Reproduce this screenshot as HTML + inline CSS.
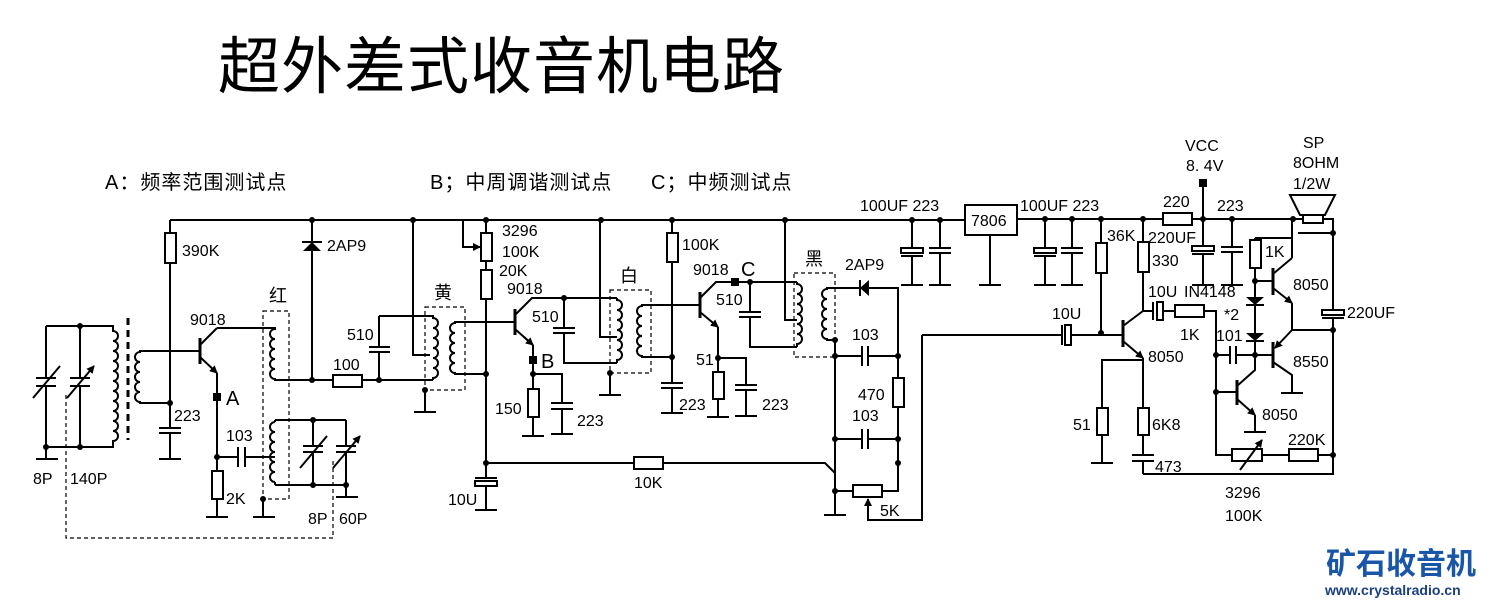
<!DOCTYPE html>
<html><head><meta charset="utf-8"><style>
html,body{margin:0;padding:0;background:#fff;}
svg{display:block}
text{font-family:"Liberation Sans","Noto Sans CJK SC",sans-serif;fill:#000;}
</style></head><body>
<svg width="1492" height="603" viewBox="0 0 1492 603" xmlns="http://www.w3.org/2000/svg">
<defs>
<marker id="ar" markerWidth="8" markerHeight="8" refX="7" refY="4" orient="auto" markerUnits="userSpaceOnUse"><path d="M0,0 L8,4 L0,8 z" fill="#000"/></marker>
</defs>
<text x="218" y="88" font-size="62" letter-spacing="1" font-family="Noto Sans CJK SC,sans-serif">超外差式收音机电路</text>
<text x="105" y="189" font-size="20" letter-spacing="1">A：频率范围测试点</text>
<text x="430" y="189" font-size="20" letter-spacing="1">B；中周调谐测试点</text>
<text x="651" y="189" font-size="20" letter-spacing="1">C；中频测试点</text>

<g stroke="#000" stroke-width="2" fill="none">
<path d="M170 220H965M1017 219H1333V310M1333 318V474H1143"/>
<path d="M46 326H113V331a5 5 0 0 1 0 10a5 5 0 0 1 0 10a5 5 0 0 1 0 10a5 5 0 0 1 0 10a5 5 0 0 1 0 10a5 5 0 0 1 0 10a5 5 0 0 1 0 10a5 5 0 0 1 0 10a5 5 0 0 1 0 10a5 5 0 0 1 0 10a5 5 0 0 1 0 10V447H46"/>
<path d="M46 326V378M46 386V459M36 378H56M36 386H56M36 459H58M80 326V378M80 386V447M70 378H90M70 386H90"/>
<path d="M33 398L60 366M67 398L94 366" marker-end="url(#ar)"/>
<path d="M128 318V440" stroke-width="3" stroke-dasharray="7,5"/>
<path d="M170 351H140V352a5 5 0 0 0 0 10a5 5 0 0 0 0 10a5 5 0 0 0 0 10a5 5 0 0 0 0 10a5 5 0 0 0 0 10V403H170"/>
<path d="M170 220V428M159 428H181M159 433H181M170 433V459M159 459H181"/>
<path d="M170 351H200M217 328H275V329a5 5 0 0 0 0 10a5 5 0 0 0 0 10a5 5 0 0 0 0 10a5 5 0 0 0 0 10a5 5 0 0 0 0 10V380H433"/>
<path d="M200 338V364" stroke-width="3"/>
<path d="M200 345L217 328"/>
<path d="M200 357L217 373" marker-end="url(#ar)"/>
<path d="M217 373V471M217 499V517M206 517H228M217 457H238M238 447V467M245 447V467M245 457H275"/>
<path d="M312 220V380M302 242H322"/>
<path d="M275 420H346M275 485H346V497M336 497H358M275 422a5 5 0 0 0 0 10a5 5 0 0 0 0 10a5 5 0 0 0 0 10a5 5 0 0 0 0 10a5 5 0 0 0 0 10a5 5 0 0 0 0 10M275 420V422M275 482V485"/>
<path d="M313 420V446M313 452V485M303 446H323M303 452H323M346 420V446M346 452V485M336 446H356M336 452H356"/>
<path d="M300 468L327 436M333 468L360 436" marker-end="url(#ar)"/>
<path d="M263 499V517M253 517H275"/>
<path d="M263 311H289V499H263Z" stroke-width="1.2" stroke-dasharray="4,3"/>
<path d="M66 395V538H333V460" stroke-width="1.2" stroke-dasharray="4,3"/>
<path d="M379 316V347M369 347H390M369 352H390M379 352V380M379 316H433V318a5 5 0 0 1 0 10a5 5 0 0 1 0 10a5 5 0 0 1 0 10a5 5 0 0 1 0 10a5 5 0 0 1 0 10a5 5 0 0 1 0 10V380M413 220V355H430"/>
<path d="M425 390V412M414 412H436"/>
<path d="M425 307H465V390H425Z" stroke-width="1.2" stroke-dasharray="4,3"/>
<path d="M486 322H455V323a5 5 0 0 0 0 10a5 5 0 0 0 0 10a5 5 0 0 0 0 10a5 5 0 0 0 0 10a5 5 0 0 0 0 10V374H486"/>
<path d="M486 220V478M475 478H497M486 486V510M475 510H497"/>
<rect x="475" y="481" width="22" height="5"/>
<path d="M463 220V247H480" marker-end="url(#ar)"/>
<path d="M486 463H825L835 473M835 340V515M824 515H846"/>
<path d="M486 322H515"/>
<path d="M515 309V335" stroke-width="3"/>
<path d="M515 315L532 298H617M515 329L533 345" />
<path d="M524 337L533 345" marker-end="url(#ar)"/>
<path d="M533 345V389M533 417V436M522 436H544M533 374H562V403M551 403H573M551 409H573M562 409V434M551 434H573"/>
<path d="M564 298V328M553 328H575M553 333H575M564 333V363H617"/>
<path d="M600 220V337H617M617 298V300a5 5 0 0 1 0 10a5 5 0 0 1 0 10a5 5 0 0 1 0 10a5 5 0 0 1 0 10a5 5 0 0 1 0 10a5 5 0 0 1 0 10V363"/>
<path d="M610 290H651V373H610Z" stroke-width="1.2" stroke-dasharray="4,3"/>
<path d="M610 373V395M599 395H621"/>
<path d="M672 305H642V306a5 5 0 0 0 0 10a5 5 0 0 0 0 10a5 5 0 0 0 0 10a5 5 0 0 0 0 10a5 5 0 0 0 0 10V357H672"/>
<path d="M672 220V383M661 383H683M661 388H683M672 388V413M661 413H683"/>
<path d="M672 305H700"/>
<path d="M700 292V318" stroke-width="3"/>
<path d="M700 298L716 282H797"/>
<path d="M700 312L718 327" marker-end="url(#ar)"/>
<path d="M718 327V372M718 399V417M707 417H729M718 358H746V385M735 385H757M735 390H757M746 390V416M735 416H757"/>
<path d="M750 282V312M739 312H761M739 317H761M750 317V347H797"/>
<path d="M785 220V320H797M797 282V284a5 5 0 0 1 0 10a5 5 0 0 1 0 10a5 5 0 0 1 0 10a5 5 0 0 1 0 10a5 5 0 0 1 0 10a5 5 0 0 1 0 10V347"/>
<path d="M794 273H835V357H794Z" stroke-width="1.2" stroke-dasharray="4,3"/>
<path d="M835 340H827V339a5 5 0 0 1 0 -10a5 5 0 0 1 0 -10a5 5 0 0 1 0 -10a5 5 0 0 1 0 -10a5 5 0 0 1 0 -10V288H898V491H882M860 280V296"/>
<path d="M835 356H862M862 346V366M868 346V366M868 356H898M835 439H862M862 429V449M868 429V449M868 439H898M835 491H853"/>
<path d="M922 335V520H868V500" />
<path d="M868 510V499" marker-end="url(#ar)"/>
<path d="M922 335H1062M1062 325V345M1071 335H1123"/>
<rect x="1065" y="325" width="6" height="20"/>
<path d="M912 220V248M901 256H923M912 256V285M901 285H923M940 220V248M929 248H951M929 253H951M940 253V285M929 285H951"/>
<rect x="901" y="248" width="22" height="5"/>
<path d="M990 235V285M979 285H1001"/>
<path d="M1045 219V248M1034 256H1056M1045 256V285M1034 285H1056M1072 219V248M1061 248H1083M1061 253H1083M1072 253V285M1061 285H1083"/>
<rect x="1034" y="248" width="22" height="5"/>
<path d="M1101 219V333M1143 219V311"/>
<path d="M1123 320V347" stroke-width="3"/>
<path d="M1123 326L1143 311"/>
<path d="M1123 341L1143 358" marker-end="url(#ar)"/>
<path d="M1143 358V455M1132 455H1154M1132 461H1154M1143 461V474M1143 360H1102V408M1102 435V463M1091 463H1113"/>
<path d="M1143 311H1153M1153 302V320M1163 311H1216V455H1333"/>
<rect x="1157" y="302" width="6" height="18"/>
<path d="M1203 183V246M1192 254H1214M1203 254V285M1192 285H1214M1232 219V247M1221 247H1243M1221 252H1243M1232 252V285M1221 285H1243"/>
<rect x="1192" y="246" width="22" height="5"/>
<path d="M1292 219V258M1298 233H1333M1255 238H1292M1255 238V355"/>
<path d="M1255 281H1273M1255 355H1273"/>
<path d="M1273 268V295M1273 342V368M1237 380V405" stroke-width="3"/>
<path d="M1273 274L1292 258"/>
<path d="M1273 288L1292 303" marker-end="url(#ar)"/>
<path d="M1292 303V330H1333"/>
<path d="M1292 330L1275 348" marker-end="url(#ar)"/>
<path d="M1273 362L1292 375V393M1281 393H1303"/>
<path d="M1246 305H1264M1246 341H1264"/>
<path d="M1216 355H1230M1230 346V364M1236 346V364M1236 355H1255M1216 392H1237"/>
<path d="M1237 386L1255 370V355"/>
<path d="M1237 399L1255 415" marker-end="url(#ar)"/>
<path d="M1255 415V432M1244 432H1266"/>
<path d="M1322 318H1344"/>
<rect x="1322" y="310" width="22" height="5"/>
<path d="M1290 195H1335L1325 215H1300Z"/>
</g>
<g stroke="#000" stroke-width="2" fill="#fff">
<rect x="165" y="233" width="11" height="30"/>
<rect x="212" y="471" width="11" height="28"/>
<rect x="333" y="375" width="29" height="12"/>
<rect x="481" y="233" width="11" height="28"/>
<rect x="481" y="270" width="11" height="29"/>
<rect x="634" y="457" width="29" height="12"/>
<rect x="528" y="389" width="11" height="28"/>
<rect x="667" y="233" width="11" height="29"/>
<rect x="713" y="372" width="11" height="27"/>
<rect x="893" y="378" width="11" height="29"/>
<rect x="853" y="485" width="29" height="12"/>
<rect x="965" y="205" width="52" height="30"/>
<rect x="1096" y="243" width="11" height="30"/>
<rect x="1138" y="242" width="11" height="30"/>
<rect x="1163" y="213" width="29" height="12"/>
<rect x="1138" y="408" width="11" height="27"/>
<rect x="1097" y="408" width="11" height="27"/>
<rect x="1175" y="305" width="29" height="12"/>
<rect x="1232" y="449" width="30" height="12"/>
<rect x="1289" y="449" width="29" height="12"/>
<rect x="1250" y="240" width="11" height="28"/>
<rect x="1303" y="215" width="20" height="8"/>
</g>
<path d="M1240 470L1262 440" stroke="#000" stroke-width="2" marker-end="url(#ar)"/>
<g fill="#000">
<polygon points="303,251 321,251 312,242"/>
<polygon points="869,280 869,296 860,288"/>
<polygon points="1246,297 1264,297 1255,305"/>
<polygon points="1246,333 1264,333 1255,341"/>
<rect x="213" y="393" width="8" height="8"/>
<rect x="529" y="356" width="8" height="8"/>
<rect x="731" y="278" width="8" height="8"/>
<rect x="1199" y="179" width="8" height="8"/>
<circle cx="80" cy="326" r="3"/><circle cx="46" cy="447" r="3"/><circle cx="80" cy="447" r="3"/>
<circle cx="170" cy="403" r="3"/><circle cx="217" cy="457" r="3"/><circle cx="312" cy="220" r="3"/><circle cx="312" cy="380" r="3"/><circle cx="379" cy="380" r="3"/>
<circle cx="313" cy="420" r="3"/><circle cx="313" cy="485" r="3"/><circle cx="346" cy="485" r="3"/><circle cx="263" cy="499" r="3"/>
<circle cx="413" cy="220" r="3"/><circle cx="486" cy="220" r="3"/><circle cx="425" cy="390" r="3"/><circle cx="486" cy="374" r="3"/><circle cx="486" cy="463" r="3"/>
<circle cx="564" cy="298" r="3"/><circle cx="533" cy="374" r="3"/><circle cx="601" cy="220" r="3"/><circle cx="610" cy="373" r="3"/><circle cx="672" cy="220" r="3"/><circle cx="672" cy="357" r="3"/>
<circle cx="750" cy="282" r="3"/><circle cx="718" cy="358" r="3"/><circle cx="785" cy="220" r="3"/>
<circle cx="835" cy="340" r="3"/><circle cx="835" cy="356" r="3"/><circle cx="898" cy="356" r="3"/><circle cx="835" cy="439" r="3"/><circle cx="898" cy="439" r="3"/><circle cx="898" cy="463" r="3"/><circle cx="835" cy="491" r="3"/>
<circle cx="912" cy="220" r="3"/><circle cx="940" cy="220" r="3"/><circle cx="1045" cy="219" r="3"/><circle cx="1072" cy="219" r="3"/><circle cx="1101" cy="219" r="3"/><circle cx="1143" cy="219" r="3"/><circle cx="1203" cy="219" r="3"/><circle cx="1232" cy="219" r="3"/><circle cx="1293" cy="219" r="3"/>
<circle cx="1101" cy="333" r="3"/><circle cx="1333" cy="233" r="3"/><circle cx="1333" cy="330" r="3"/><circle cx="1333" cy="455" r="3"/><circle cx="1255" cy="281" r="3"/><circle cx="1255" cy="355" r="3"/><circle cx="1216" cy="355" r="3"/><circle cx="1216" cy="392" r="3"/>
</g>
<g font-size="16">
<text x="182" y="256">390K</text><text x="327" y="251">2AP9</text><text x="269" y="302" font-size="18">红</text>
<text x="190" y="325">9018</text><text x="226" y="405" font-size="20">A</text><text x="174" y="421">223</text>
<text x="226" y="441">103</text><text x="226" y="504">2K</text><text x="33" y="484">8P</text><text x="70" y="484">140P</text>
<text x="308" y="524">8P</text><text x="339" y="524">60P</text><text x="347" y="340">510</text><text x="333" y="370">100</text>
<text x="434" y="299" font-size="18">黄</text><text x="502" y="236">3296</text><text x="502" y="257">100K</text><text x="499" y="276">20K</text><text x="507" y="294">9018</text>
<text x="532" y="322">510</text><text x="541" y="368" font-size="20">B</text><text x="495" y="414">150</text><text x="577" y="426">223</text>
<text x="448" y="505">10U</text><text x="634" y="488">10K</text><text x="620" y="282" font-size="18">白</text><text x="682" y="250">100K</text>
<text x="693" y="275">9018</text><text x="741" y="276" font-size="20">C</text><text x="716" y="305">510</text><text x="696" y="365">51</text>
<text x="679" y="410">223</text><text x="762" y="410">223</text><text x="805" y="265" font-size="18">黑</text><text x="845" y="270">2AP9</text>
<text x="852" y="340">103</text><text x="858" y="400">470</text><text x="852" y="421">103</text><text x="880" y="516">5K</text>
<text x="860" y="211">100UF 223</text><text x="1020" y="211">100UF 223</text><text x="971" y="226">7806</text>
<text x="1107" y="241">36K</text><text x="1148" y="243">220UF</text><text x="1152" y="266">330</text><text x="1163" y="207">220</text>
<text x="1185" y="151">VCC</text><text x="1186" y="171">8. 4V</text><text x="1217" y="211">223</text>
<text x="1303" y="148">SP</text><text x="1293" y="168">8OHM</text><text x="1293" y="189">1/2W</text>
<text x="1265" y="257">1K</text><text x="1293" y="290">8050</text><text x="1148" y="297">10U</text><text x="1184" y="297">IN4148</text>
<text x="1224" y="320">*2</text><text x="1180" y="340">1K</text><text x="1216" y="341">101</text><text x="1347" y="318">220UF</text>
<text x="1052" y="319">10U</text><text x="1148" y="362">8050</text><text x="1293" y="367">8550</text><text x="1262" y="420">8050</text>
<text x="1073" y="430">51</text><text x="1152" y="430">6K8</text><text x="1155" y="472">473</text><text x="1288" y="445">220K</text>
<text x="1225" y="498">3296</text><text x="1225" y="521">100K</text>
</g>
<text x="1326" y="574" font-size="30" font-weight="bold" style="fill:#1a56a8" font-family="Noto Sans CJK SC,sans-serif">矿石收音机</text>
<text x="1325" y="595" font-size="14" font-weight="bold" style="fill:#1a3f80">www.crystalradio.cn</text>
</svg>
</body></html>
